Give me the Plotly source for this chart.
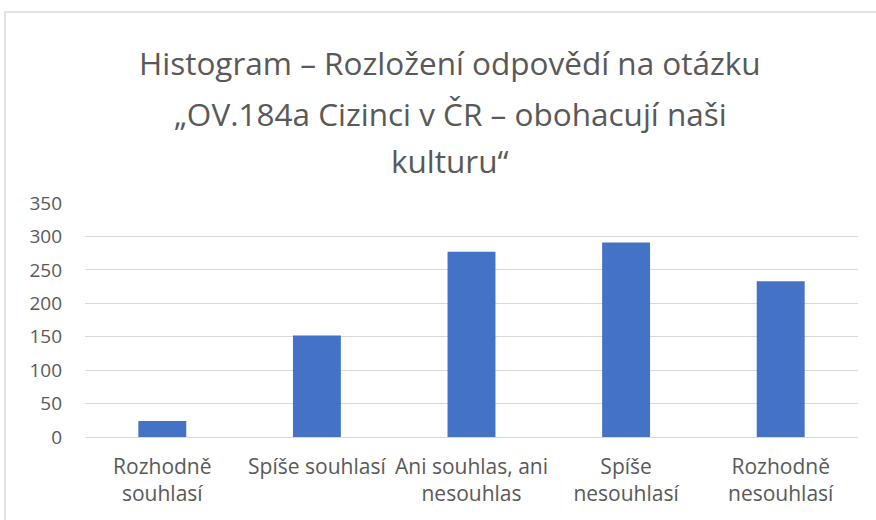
import plotly.graph_objects as go

categories = ["Rozhodně<br>souhlasí", "Spíše souhlasí", "Ani souhlas, ani<br>nesouhlas",
              "Spíše<br>nesouhlasí", "Rozhodně<br>nesouhlasí"]
counts = [24, 152, 277, 291, 233]
title_lines = ["Histogram – Rozložení odpovědí na otázku",
               "„OV.184a Cizinci v ČR – obohacují naši",
               "kulturu“"]
y_ticks = [0, 50, 100, 150, 200, 250, 300, 350]

W, H = 876, 520
ml, mr, mt, mb = 85, 18, 203, 83
ph = H - mt - mb
pw = W - ml - mr

def py(ypx):
    return (H - mb - ypx) / ph

def px(xpx):
    return (xpx - ml) / pw

fig = go.Figure(go.Bar(x=categories, y=counts, marker=dict(color="#4472C4", line=dict(width=0))))

annotations = []
for line, ypx in zip(title_lines, [63, 113, 160]):
    annotations.append(dict(text=line, xref="paper", yref="paper", x=px(450), y=py(ypx),
                            xanchor="center", yanchor="middle", showarrow=False,
                            font=dict(family="Open Sans", size=31.5, color="#595959")))

fig.update_layout(
    width=W, height=H,
    margin=dict(l=ml, r=mr, t=mt, b=mb),
    paper_bgcolor="white", plot_bgcolor="white",
    bargap=0.69,
    showlegend=False,
    annotations=annotations,
    shapes=[dict(type="rect", xref="paper", yref="paper", x0=px(5), x1=px(W + 20), y0=py(H + 20), y1=py(12),
                 line=dict(color="#d9d9d9", width=1.5), layer="below")],
    font=dict(family="Open Sans", color="#595959"),
)
fig.update_yaxes(range=[0, 350], tickvals=y_ticks, showgrid=True, gridcolor="#d9d9d9", gridwidth=1.3,
                 zeroline=True, zerolinecolor="#d9d9d9", zerolinewidth=1.3, showline=False,
                 tickfont=dict(size=19, color="#595959"), ticklabelstandoff=22)
fig.update_xaxes(showgrid=False, showline=False, tickfont=dict(size=21, color="#595959"),
                 ticklabelstandoff=15)

fig.write_html("out.html", config={"displayModeBar": False},
               post_script="document.body.style.margin='0';document.body.style.overflow='hidden';")
